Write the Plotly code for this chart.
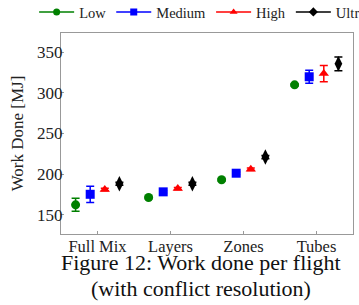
import plotly.graph_objects as go

categories = ["Full Mix", "Layers", "Zones", "Tubes"]
series_names = ["Low", "Medium", "High", "Ultra"]
low = [162, 171, 193, 310]
low_err = [8, 1.5, 1.5, 1.5]
medium = [175, 178, 201, 320]
medium_err = [10, 1.5, 1.5, 8]
high = [181, 182, 206, 324]
high_err = [1.5, 1.5, 1.5, 10]
ultra = [188, 188, 221, 336]
ultra_err = [2, 2, 2, 8.5]
y_ticks = [150, 200, 250, 300, 350]

offsets = [-0.3, -0.1, 0.1, 0.3]
colors = ["green", "blue", "red", "black"]
symbols = ["circle", "square", "triangle-up", "diamond-tall"]
sizes = [9, 9, 9, 11]
values = [low, medium, high, ultra]
errors = [low_err, medium_err, high_err, ultra_err]

FONT = "Liberation Serif, Times New Roman, serif"
fig = go.Figure()
for name, vals, errs, off, c, s, sz in zip(series_names, values, errors, offsets, colors, symbols, sizes):
    xs = [i + off for i in range(len(categories))]
    fig.add_trace(go.Scatter(
        x=xs, y=vals, mode="markers", name=name, showlegend=False,
        marker=dict(color=c, symbol=s, size=sz),
        error_y=dict(type="data", array=errs, color=c, thickness=1.5, width=4),
    ))
    fig.add_trace(go.Scatter(
        x=[None], y=[None], mode="lines+markers", name=name,
        line=dict(color=c, width=1.5),
        marker=dict(color=c, symbol=s.replace("-tall", ""), size=7),
    ))

# figure wider than the 359px window so the legend's last entry is clipped, as in the reference
fig.update_layout(
    width=410, height=305,
    margin=dict(l=61, r=57, t=33, b=71, autoexpand=False),
    paper_bgcolor="white", plot_bgcolor="white",
    font=dict(family=FONT, color="#222", size=16),
    showlegend=True,
    legend=dict(orientation="h", x=-0.092, xanchor="left", y=1.025, yanchor="bottom",
                font=dict(size=14.5, family=FONT), bgcolor="rgba(0,0,0,0)",
                itemwidth=35, tracegroupgap=0),
    xaxis=dict(range=[-0.5, 3.5], tickvals=list(range(len(categories))), ticktext=categories,
               showgrid=False, zeroline=False, showline=True, mirror=True, linecolor="#999",
               linewidth=1, ticks="inside", ticklen=3, tickcolor="#999", automargin=False,
               ticklabelstandoff=-3,
               tickfont=dict(size=16.5, family=FONT)),
    yaxis=dict(range=[126, 374], tickvals=y_ticks, showgrid=False, zeroline=False,
               showline=True, mirror=True, linecolor="#999", linewidth=1,
               ticks="inside", ticklen=3, tickcolor="#999", automargin=False,
               ticklabelstandoff=-6,
               tickfont=dict(size=17, family=FONT),
               title=dict(text="Work Done [MJ]", font=dict(size=17, family=FONT), standoff=9)),
    annotations=[
        dict(text="Figure 12: Work done per flight", xref="paper", yref="paper",
             x=0.48, y=-0.143, xanchor="center", yanchor="middle", showarrow=False,
             font=dict(size=22, family=FONT, color="#111")),
        dict(text="(with conflict resolution)", xref="paper", yref="paper",
             x=0.48, y=-0.269, xanchor="center", yanchor="middle", showarrow=False,
             font=dict(size=22, family=FONT, color="#111")),
    ],
)

fig.write_html("out.html", config={"displayModeBar": False},
               post_script="document.body.style.margin='0';document.body.style.overflow='hidden';")
